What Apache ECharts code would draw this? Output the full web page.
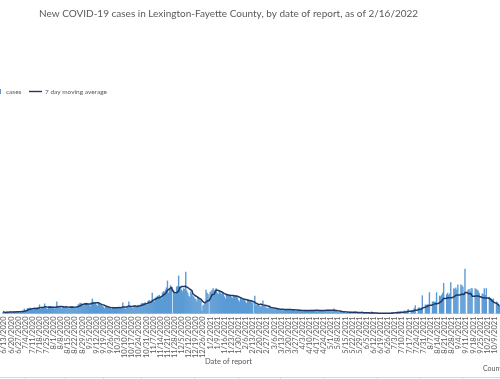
<!DOCTYPE html>
<html>
<head>
<meta charset="utf-8">
<script src="https://cdn.jsdelivr.net/npm/echarts@6/dist/echarts.min.js"></script>
<style>
html,body{margin:0;padding:0;background:#ffffff;}
#c{width:500px;height:379px;}
</style>
</head>
<body>
<div id="c"></div>
<script>
const chartTitle = 'New COVID-19 cases in Lexington-Fayette County, by date of report, as of 2/16/2022';
const seriesNames = ['cases', '7 day moving average'];
const axisName = 'Date of report';
const sourceNote = 'County Health Department';
const firstDay = [2020, 6, 12];

// Daily new cases, one week (Fri..Thu) per row, starting 6/12/2020
const cases = [
  12, 6, 4, 10, 14, 9, 11,
  13, 8, 5, 12, 15, 11, 14,
  16, 10, 7, 14, 17, 15, 18,
  33, 14, 20, 35, 38, 36, 40,
  30, 28, 25, 38, 40, 35, 42,
  36, 60, 30, 45, 40, 38, 67,
  44, 35, 30, 48, 45, 50, 40,
  46, 38, 30, 44, 80, 42, 48,
  45, 40, 32, 50, 46, 42, 52,
  40, 38, 30, 48, 46, 50, 44,
  42, 40, 34, 50, 60, 66, 72,
  70, 62, 50, 66, 70, 72, 68,
  62, 55, 48, 75, 100, 80, 74,
  72, 60, 52, 70, 66, 60, 58,
  50, 46, 35, 48, 44, 42, 40,
  38, 35, 30, 45, 42, 40, 44,
  40, 36, 30, 42, 44, 38, 74,
  45, 35, 30, 44, 48, 80, 46,
  50, 40, 35, 52, 55, 50, 48,
  58, 50, 45, 66, 72, 70, 68,
  75, 66, 60, 85, 90, 80, 88,
  140, 85, 80, 105, 110, 118, 120,
  125, 110, 100, 140, 150, 145, 160,
  175, 221, 140, 165, 190, 180, 0,
  160, 140, 130, 180, 185, 255, 175,
  180, 160, 150, 170, 165, 280, 155,
  140, 120, 110, 150, 135, 120, 110,
  100, 95, 80, 110, 105, 95, 90,
  20, 55, 60, 65, 160, 140, 130,
  0, 145, 150, 160, 170, 155, 160,
  170, 140, 130, 150, 140, 130, 140,
  130, 115, 100, 135, 130, 120, 125,
  125, 110, 105, 125, 122, 118, 120,
  105, 90, 80, 110, 100, 95, 100,
  90, 80, 70, 95, 90, 85, 88,
  75, 70, 0, 120, 60, 55, 58,
  55, 50, 45, 55, 87, 52, 48,
  40, 38, 35, 45, 42, 40, 36,
  32, 30, 25, 35, 33, 30, 28,
  28, 25, 20, 32, 30, 28, 26,
  27, 24, 20, 30, 28, 26, 25,
  22, 20, 18, 26, 24, 22, 20,
  20, 18, 15, 24, 22, 20, 19,
  21, 18, 16, 25, 22, 24, 20,
  22, 19, 15, 24, 20, 22, 21,
  24, 20, 16, 26, 24, 22, 25,
  20, 16, 14, 22, 33, 18, 16,
  14, 10, 8, 16, 14, 12, 13,
  10, 6, 5, 12, 9, 8, 14,
  8, 5, 4, 10, 14, 7, 6,
  6, 4, 3, 2, 14, 6, 5,
  4, 2, 2, 5, 4, 3, 14,
  3, 0, 0, 4, 3, 2, 3,
  2, 0, 0, 3, 2, 3, 2,
  3, 0, 0, 4, 5, 6, 8,
  8, 0, 0, 12, 14, 10, 12,
  12, 0, 0, 20, 18, 16, 20,
  30, 0, 0, 20, 22, 25, 35,
  56, 0, 0, 38, 40, 36, 40,
  122, 0, 0, 60, 58, 62, 60,
  143, 0, 0, 80, 82, 78, 80,
  143, 0, 0, 120, 115, 125, 140,
  205, 0, 0, 130, 140, 125, 135,
  210, 0, 0, 170, 165, 175, 160,
  195, 0, 0, 195, 190, 180, 120,
  300, 0, 0, 160, 165, 150, 170,
  170, 0, 0, 170, 165, 160, 155,
  140, 0, 0, 135, 130, 170, 125,
  170, 0, 0, 112, 105, 100, 95,
  100, 0, 0, 80, 75, 55, 50
];

// Report dates (category labels), one per daily value
const dates = cases.map(function (v, i) {
  const d = new Date(firstDay[0], firstDay[1] - 1, firstDay[2] + i);
  return (d.getMonth() + 1) + '/' + d.getDate() + '/' + d.getFullYear();
});

// 7 day (trailing) moving average of the daily cases
const movingAvg = cases.map(function (v, i) {
  const win = cases.slice(Math.max(0, i - 6), i + 1);
  return Math.round(win.reduce(function (a, b) { return a + b; }, 0) / win.length * 10) / 10;
});

const gray = '#595959';
const navy = '#203864';
const fontFamily = 'Lato, "Liberation Sans", sans-serif';
const chart = echarts.init(document.getElementById('c'), null, { renderer: 'canvas' });

const cellTicks = [25, 65, 103, 141, 194, 238, 280, 323, 377, 419, 462];
const graphics = [
  { type: 'text', left: 205, top: 358, style: { text: axisName, fill: gray, font: '7.5px ' + fontFamily } },
  { type: 'text', left: 483, top: 365, style: { text: sourceNote, fill: gray, font: '7px ' + fontFamily } },
  { type: 'line', shape: { x1: 0, y1: 377.5, x2: 500, y2: 377.5 }, style: { stroke: '#d9d9d9', lineWidth: 1 } }
].concat(cellTicks.map(function (x) {
  return { type: 'line', shape: { x1: x + 0.5, y1: 377, x2: x + 0.5, y2: 379 }, style: { stroke: '#d9d9d9', lineWidth: 1 } };
}));

// Weekly date labels split over two overlaid axes (alternate weeks) so none get dropped
function makeXAxis(phase, showLine) {
  return {
    type: 'category',
    data: dates,
    position: 'bottom',
    boundaryGap: true,
    axisLine: { show: showLine, lineStyle: { color: '#d9d9d9', width: 1 } },
    axisTick: { show: false },
    splitLine: { show: false },
    axisLabel: {
      interval: function (i) { return i % 14 === phase; },
      rotate: 90,
      fontSize: 7.5,
      color: gray,
      margin: 3,
      hideOverlap: false,
      fontFamily: fontFamily
    }
  };
}

chart.setOption({
  animation: false,
  backgroundColor: '#ffffff',
  textStyle: { fontFamily: fontFamily },
  title: {
    text: chartTitle,
    left: 39,
    top: 9,
    padding: 0,
    textStyle: { fontSize: 10, fontWeight: 'normal', color: gray, fontFamily: fontFamily }
  },
  legend: [
    {
      data: [{ name: seriesNames[0], icon: 'rect' }],
      left: -4, top: 88, padding: 0, itemWidth: 5, itemHeight: 5, selectedMode: false,
      textStyle: { fontSize: 6.5, color: gray, fontFamily: fontFamily }
    },
    {
      data: [{ name: seriesNames[1], icon: 'rect', itemStyle: { color: navy } }],
      left: 29, top: 88, padding: 0, itemWidth: 13, itemHeight: 1.4, selectedMode: false,
      textStyle: { fontSize: 6.5, color: gray, fontFamily: fontFamily, padding: [0, 0, 0, -2] }
    }
  ],
  grid: { left: 0, right: 0, top: 105, bottom: 65.5, containLabel: false },
  xAxis: [makeXAxis(1, true), makeXAxis(8, false)],
  yAxis: { type: 'value', min: 0, max: 1400, show: false, splitLine: { show: false } },
  series: [
    {
      name: seriesNames[0],
      type: 'bar',
      xAxisIndex: 0,
      data: cases,
      barWidth: 1.4,
      itemStyle: { color: '#5b9bd5' }
    },
    {
      name: seriesNames[1],
      type: 'line',
      xAxisIndex: 0,
      data: movingAvg,
      symbol: 'none',
      showSymbol: false,
      lineStyle: { color: navy, width: 1.5 },
      itemStyle: { color: navy }
    }
  ],
  graphic: graphics
});
</script>
</body>
</html>
